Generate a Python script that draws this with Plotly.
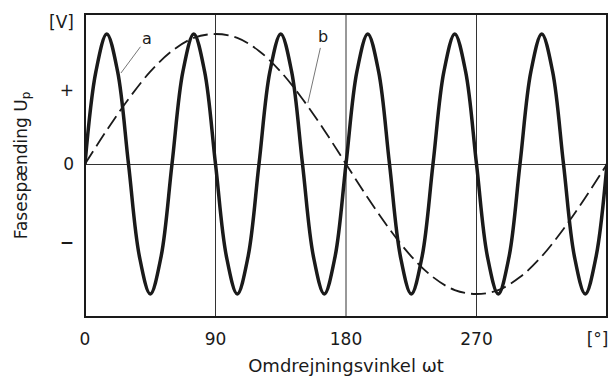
import plotly.graph_objects as go

# Solid curve "a" (read every 7.5 deg)
a_angle = [i * 7.5 for i in range(49)]
a_value = [0, 0.71, 1, 0.71, 0, -0.71, -1, -0.71] * 6 + [0]

# Dashed curve "b" (read every 15 deg)
b_angle = [i * 15 for i in range(25)]
b_value = [0, 0.26, 0.5, 0.71, 0.87, 0.97, 1, 0.97, 0.87, 0.71, 0.5, 0.26,
           0, -0.26, -0.5, -0.71, -0.87, -0.97, -1, -0.97, -0.87, -0.71, -0.5, -0.26, 0]

x_tickvals = [0, 90, 180, 270, 353.5]
x_ticktext = ["0", "90", "180", "270", "[°]"]
y_tickvals = [1.09, 0.57, 0, -0.6]
y_ticktext = ["[V]", "+", "0", "<b>−</b>"]
grid_angles = [90, 180, 270]

ink = "#1a1a1a"
family = "DejaVu Sans, Arial, sans-serif"
font = dict(family=family, size=16, color=ink)
tickfont = dict(family=family, size=17, color=ink)

fig = go.Figure()
fig.add_trace(go.Scatter(x=b_angle, y=b_value, mode="lines",
                         line=dict(color=ink, width=1.8, dash="15px,6px", shape="spline", smoothing=1.0),
                         showlegend=False, hoverinfo="skip"))
fig.add_trace(go.Scatter(x=a_angle, y=a_value, mode="lines",
                         line=dict(color=ink, width=3.5, shape="spline", smoothing=1.0),
                         showlegend=False, hoverinfo="skip"))

shapes = [dict(type="line", xref="x", yref="paper", x0=g, x1=g, y0=0, y1=1,
               line=dict(color="#333", width=1), layer="below") for g in grid_angles]
shapes.append(dict(type="rect", xref="paper", yref="paper", x0=0, x1=1, y0=0, y1=1,
                   line=dict(color=ink, width=2)))
fig.update_layout(shapes=shapes)

fig.add_annotation(x=24.8, y=0.70, ax=26, ay=-35, text="a", showarrow=True, arrowhead=0,
                   arrowwidth=1, arrowcolor="#777", font=font)
fig.add_annotation(x=153.7, y=0.47, ax=15, ay=-66, text="b", showarrow=True, arrowhead=0,
                   arrowwidth=1, arrowcolor="#777", font=font)

fig.update_layout(
    width=613, height=380,
    margin=dict(l=85, r=6, t=14, b=63),
    paper_bgcolor="white", plot_bgcolor="white",
    font=font,
    xaxis=dict(range=[0, 360], tickvals=x_tickvals, ticktext=x_ticktext, showgrid=False,
               zeroline=False, ticks="", showline=False, tickfont=tickfont, ticklabelstandoff=10,
               title=dict(text="Omdrejningsvinkel ωt", standoff=11,
                          font=dict(family=family, size=18, color=ink))),
    yaxis=dict(range=[-1.177, 1.154], tickvals=y_tickvals, ticktext=y_ticktext, showgrid=False,
               zeroline=True, zerolinecolor="#333", zerolinewidth=1, ticks="", showline=False,
               tickfont=tickfont, ticklabelstandoff=10,
               title=dict(text="Fasespænding U<sub>p</sub>", standoff=17,
                          font=dict(family=family, size=17, color=ink))),
)

fig.write_html("out.html")
